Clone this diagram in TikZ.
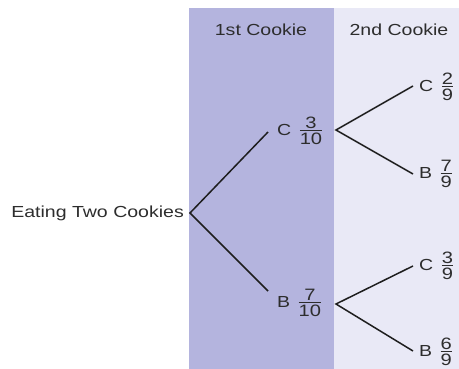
\documentclass[tikz,border=0pt]{standalone}
\usepackage{fontspec}
\setmainfont{Liberation Sans}
\definecolor{darkband}{RGB}{180,180,222}
\definecolor{lightband}{RGB}{233,233,246}
\definecolor{txt}{RGB}{45,45,45}
\definecolor{ln}{RGB}{30,30,30}
\newcommand{\sx}[1]{\scalebox{1.22}[1]{#1}}
\newcommand{\fr}[2]{\hspace{2.5pt}\ensuremath{\vcenter{\offinterlineskip\halign{\hfil##\hfil\cr \fontsize{16.5}{18}\selectfont #1\cr\noalign{\kern1.6pt\hrule height 1pt\kern1.6pt}\fontsize{16.5}{18}\selectfont #2\cr}}}}
\begin{document}
\begin{tikzpicture}[x=1pt,y=-1pt,
  lab/.style={font=\fontsize{16}{18}\selectfont, text=txt, inner sep=0pt},
  br/.style={draw=ln, line width=1.5pt}]
\useasboundingbox (0,0) rectangle (459,369);
\fill[darkband] (189,8) rectangle (334,369);
\fill[lightband] (334,8) rectangle (459,369);
\node[lab] (h1) at (261,30) {\sx{1st Cookie}};
\node[lab] (h2) at (399,30) {\sx{2nd Cookie}};
\node[lab,anchor=east] (root) at (184,213) {\sx{Eating Two Cookies}};
\coordinate (v0) at (190,213);
\coordinate (e1) at (268,132);
\coordinate (e2) at (268,291);
\node[lab,anchor=west] (c1) at (277,131) {\sx{C \fr{3}{10}}};
\node[lab,anchor=west] (b1) at (277,303) {\sx{B \fr{7}{10}}};
\coordinate (v1) at (336,130);
\coordinate (v2) at (336,304);
\coordinate (e11) at (413,86);
\coordinate (e12) at (413,174);
\coordinate (e21) at (413,266);
\coordinate (e22) at (413,351);
\node[lab,anchor=west] (c11) at (419,87) {\sx{C \fr{2}{9}}};
\node[lab,anchor=west] (b12) at (419,174) {\sx{B \fr{7}{9}}};
\node[lab,anchor=west] (c21) at (419,266) {\sx{C \fr{3}{9}}};
\node[lab,anchor=west] (b22) at (419,352) {\sx{B \fr{6}{9}}};
\draw[br] (e1) -- (v0) -- (e2);
\draw[br] (e11) -- (v1) -- (e12);
\draw[br] (e21) -- (v2) -- (e22);
\end{tikzpicture}
\end{document}
